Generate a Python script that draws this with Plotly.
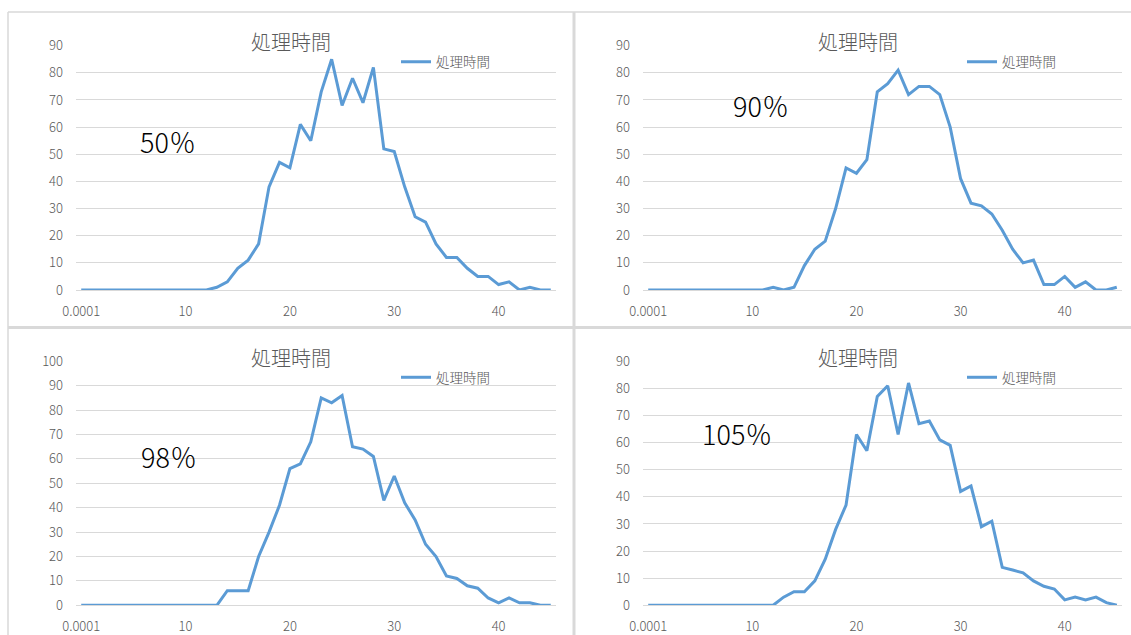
import plotly.graph_objects as go

W, H = 1131, 635

# Category axis: first bucket is labelled 0.0001, then 1..45
categories = ["0.0001"] + [str(i) for i in range(1, 46)]
tick_labels = ["0.0001", "10", "20", "30", "40"]

series_50 = [0, 0, 0, 0, 0, 0, 0, 0, 0, 0, 0, 0, 0, 1, 3, 8, 11, 17, 38, 47,
             45, 61, 55, 73, 85, 68, 78, 69, 82, 52, 51, 38, 27, 25, 17, 12, 12, 8, 5, 5,
             2, 3, 0, 1, 0, 0]
series_90 = [0, 0, 0, 0, 0, 0, 0, 0, 0, 0, 0, 0, 1, 0, 1, 9, 15, 18, 30, 45,
             43, 48, 73, 76, 81, 72, 75, 75, 72, 60, 41, 32, 31, 28, 22, 15, 10, 11, 2, 2,
             5, 1, 3, 0, 0, 1]
series_98 = [0, 0, 0, 0, 0, 0, 0, 0, 0, 0, 0, 0, 0, 0, 6, 6, 6, 20, 30, 41,
             56, 58, 67, 85, 83, 86, 65, 64, 61, 43, 53, 42, 35, 25, 20, 12, 11, 8, 7, 3,
             1, 3, 1, 1, 0, 0]
series_105 = [0, 0, 0, 0, 0, 0, 0, 0, 0, 0, 0, 0, 0, 3, 5, 5, 9, 17, 28, 37,
              63, 57, 77, 81, 63, 82, 67, 68, 61, 59, 42, 44, 29, 31, 14, 13, 12, 9, 7, 6,
              2, 3, 2, 3, 1, 0]

series_name = "処理時間"
panel_labels = ["50％", "90％", "98％", "105％"]
y_max = [90, 90, 100, 90]

LINE = "#5b9bd5"
GRID = "#d9d9d9"
TXT = "#595959"
FONT = "Noto Sans CJK JP"


def px_x(v):
    return v / W


def px_y(v):
    return 1 - v / H


# plot-area boxes in pixels: (left, right, top, bottom)
boxes = [
    (76, 556, 45.7, 290.0),
    (643, 1122, 45.7, 290.0),
    (76, 556, 361.3, 605.3),
    (643, 1122, 361.3, 605.3),
]
label_pos = [(168, 141), (761, 105), (169, 456), (737, 433)]
legend_pos = [(396, 62), (962, 62), (396, 377.5), (962, 377.5)]

fig = go.Figure()
all_series = [series_50, series_90, series_98, series_105]
annotations = []
layout_extra = {}

for i, (vals, box) in enumerate(zip(all_series, boxes)):
    n = "" if i == 0 else str(i + 1)
    xa, ya = "x" + n, "y" + n
    leg = "legend" + n
    fig.add_trace(go.Scatter(
        x=categories, y=vals, mode="lines", name=series_name,
        line=dict(color=LINE, width=3), xaxis=xa, yaxis=ya, legend=leg,
        showlegend=True, hoverinfo="x+y",
    ))
    left, right, top, bottom = box
    layout_extra["xaxis" + n] = dict(
        domain=[px_x(left), px_x(right)], anchor=ya, type="category",
        categoryorder="array", categoryarray=categories,
        range=[-0.5, len(categories) - 0.5],
        tickmode="array", tickvals=tick_labels, ticktext=tick_labels,
        showgrid=False, zeroline=False, showline=True, linecolor=GRID, linewidth=1,
        ticks="", ticklabelstandoff=9, automargin=False,
        tickfont=dict(family=FONT, size=13, color=TXT, weight=300),
        fixedrange=True,
    )
    layout_extra["yaxis" + n] = dict(
        domain=[px_y(bottom), px_y(top)], anchor=xa,
        range=[0, y_max[i]], dtick=10, tick0=0,
        showgrid=True, gridcolor=GRID, gridwidth=1, zeroline=False,
        showline=False, ticks="", ticklabelstandoff=12, automargin=False,
        tickfont=dict(family=FONT, size=13, color=TXT, weight=300),
        fixedrange=True,
    )
    lx, ly = legend_pos[i]
    layout_extra[leg] = dict(
        x=px_x(lx), y=px_y(ly), xanchor="left", yanchor="middle",
        bgcolor="rgba(0,0,0,0)", borderwidth=0,
        font=dict(family=FONT, size=13.5, color=TXT, weight=300), itemwidth=30,
    )
    # chart title
    cx = (left + right) / 2 - 25
    annotations.append(dict(
        text=series_name, x=px_x(cx), y=px_y(top - 4), xref="paper", yref="paper",
        xanchor="center", yanchor="middle", showarrow=False,
        font=dict(family=FONT, size=20, color=TXT, weight=300),
    ))
    tx, ty = label_pos[i]
    annotations.append(dict(
        text=panel_labels[i], x=px_x(tx), y=px_y(ty), xref="paper", yref="paper",
        xanchor="center", yanchor="middle", showarrow=False,
        font=dict(family=FONT, size=27, color="#000000", weight=300),
    ))

# chart-area borders and separators
shapes = [
    dict(type="line", xref="paper", yref="paper", x0=px_x(8), x1=1, y0=px_y(12), y1=px_y(12),
         line=dict(color=GRID, width=1.5)),
    dict(type="line", xref="paper", yref="paper", x0=px_x(8), x1=px_x(8), y0=px_y(12), y1=0,
         line=dict(color=GRID, width=1.5)),
    dict(type="line", xref="paper", yref="paper", x0=px_x(574), x1=px_x(574), y0=px_y(12), y1=0,
         line=dict(color=GRID, width=3)),
    dict(type="line", xref="paper", yref="paper", x0=px_x(8), x1=1, y0=px_y(327.5), y1=px_y(327.5),
         line=dict(color=GRID, width=3)),
]

fig.update_layout(
    width=W, height=H,
    margin=dict(l=0, r=0, t=0, b=0, pad=0, autoexpand=False),
    paper_bgcolor="white", plot_bgcolor="white",
    font=dict(family=FONT, color=TXT), showlegend=True,
    annotations=annotations, shapes=shapes,
    **layout_extra,
)

# page without default body margin so the figure fills the window exactly
fig.write_html(
    "out.html",
    config={"displayModeBar": False},
    post_script="document.body.style.margin='0';",
)
